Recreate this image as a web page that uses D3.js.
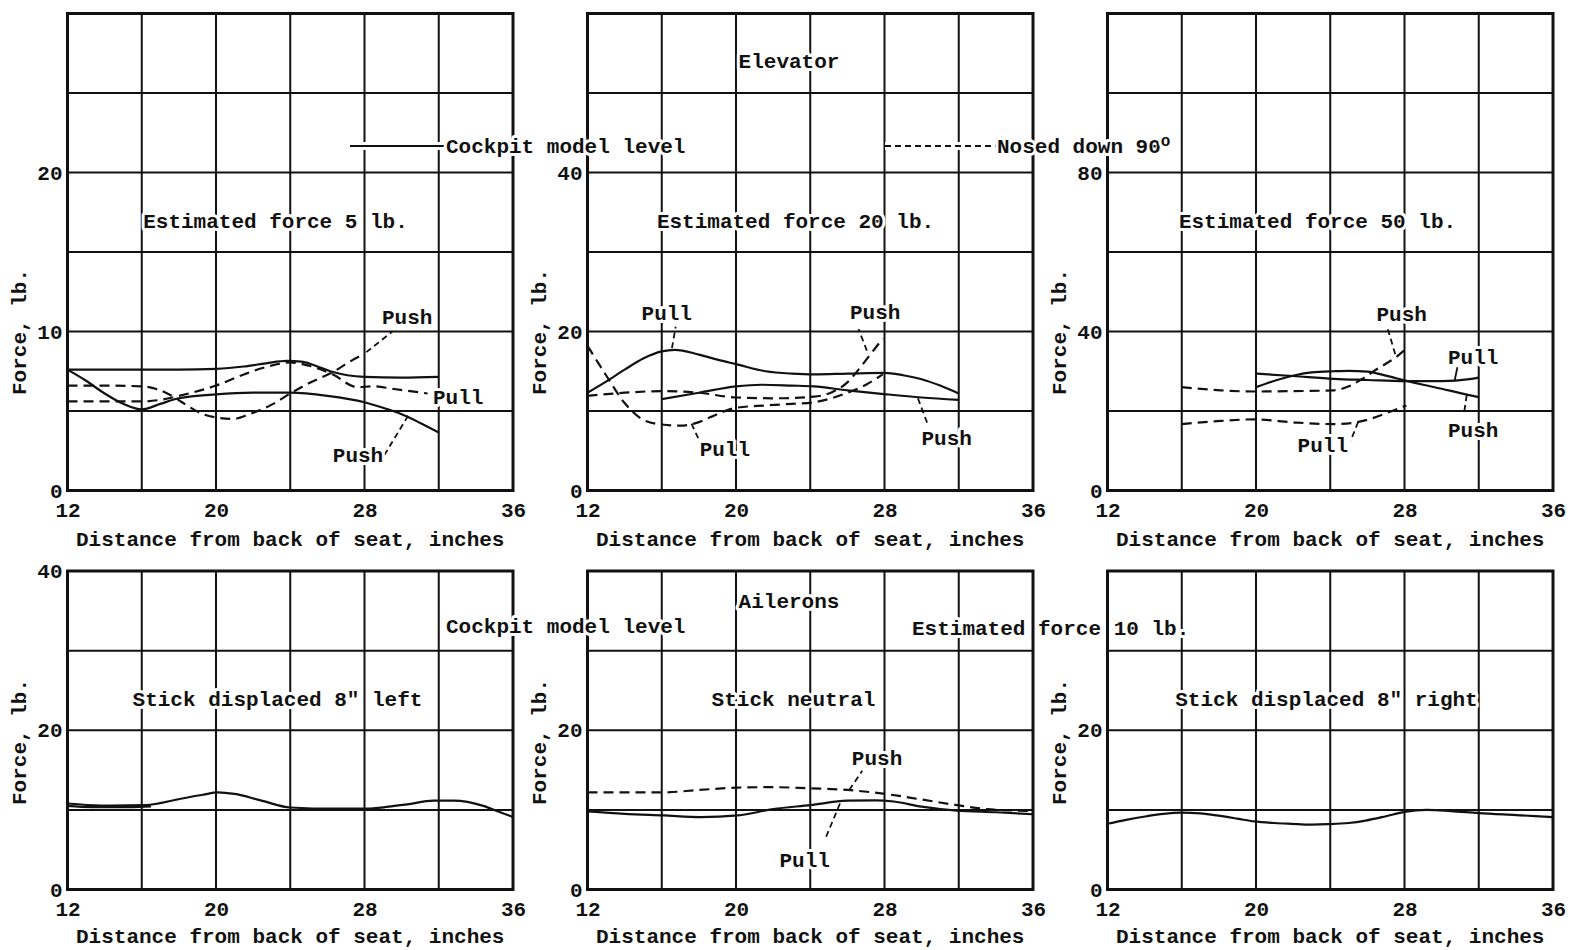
<!DOCTYPE html>
<html>
<head>
<meta charset="utf-8">
<script src="https://cdn.jsdelivr.net/npm/d3@7"></script>
<style>
  body { margin: 0; background: #fff; }
  svg text { font-family: "Liberation Mono", "DejaVu Sans Mono", monospace; font-weight: bold; font-size: 21px; fill: #111; }
  .halo { paint-order: stroke; stroke: #fff; stroke-width: 6px; stroke-linejoin: round; }
</style>
</head>
<body>
<svg id="chart" width="1577" height="950"></svg>
<script>
  // ---- axes ----
  var xDomain     = [12, 36];
  var xGrid       = [12, 16, 20, 24, 28, 32, 36];
  var xTickLabels = [12, 20, 28, 36];

  // ---- elevator, estimated 5 lb ----
  var elev5LevelA  = [[12,7.6],[14,7.6],[16,7.6],[18,7.6],[20,7.65],[21.5,7.8],[22.7,8.0],[23.8,8.15],[24.6,8.1],[25.7,7.7],[26.3,7.45],[28,7.15],[30,7.1],[32,7.15]];
  var elev5LevelB  = [[12,7.6],[13,6.9],[14,6.1],[15,5.45],[16,5.1],[17,5.45],[18,5.8],[20,6.05],[22,6.15],[24,6.15],[26,5.95],[28,5.55],[29,5.2],[30,4.8],[31,4.25],[32,3.65]];
  var elev5DownPush = [[12,6.6],[14,6.6],[16,6.55],[17,6.3],[17.7,5.9],[18.5,5.3],[19.3,4.8],[20,4.6],[20.9,4.5],[21.8,4.8],[23,5.4],[24,6.1],[25,6.75],[26.3,7.45],[27.2,8.1],[28,8.6]];
  var elev5DownPull = [[12,5.6],[14,5.6],[16,5.6],[17,5.7],[18,5.95],[20,6.6],[21.5,7.3],[22.8,7.8],[24,8.05],[25,7.85],[26.3,7.3],[27.6,6.5],[28.5,6.55],[29.5,6.4],[31.4,6.1]];

  // ---- elevator, estimated 20 lb ----
  var elev20LevelA  = [[12,12.3],[13,13.7],[14,15.2],[15,16.6],[16,17.5],[16.7,17.7],[18,17.1],[19.1,16.4],[20,15.9],[21.6,15.0],[23,14.7],[24.2,14.6],[26,14.7],[28,14.8],[29,14.5],[30,14.0],[31,13.2],[32,12.2]];
  var elev20LevelB  = [[16,11.5],[18,12.3],[20,13.1],[21.4,13.3],[23,13.2],[24.2,13.1],[26,12.6],[28.1,12.1],[30,11.7],[32,11.4]];
  var elev20DownPull = [[12,18.2],[13,14.5],[14,11.0],[15,8.9],[16,8.3],[17,8.15],[18,8.6],[18.6,9.2],[19.3,9.9],[20,10.4],[21.6,10.7],[23,10.9],[24.2,11.1],[25,11.5],[26,12.3],[27,13.3],[27.9,14.6]];
  var elev20DownPush = [[12,11.9],[14,12.3],[16,12.5],[18,12.3],[20,11.7],[22,11.6],[24.2,11.8],[25.2,12.4],[26,13.6],[26.6,15.2],[27.2,17.0],[27.9,19.1]];

  // ---- elevator, estimated 50 lb ----
  var elev50LevelPull = [[20,29.4],[22,28.8],[24.2,28.1],[26,27.8],[28,27.5],[30,27.5],[31.5,28.0],[32,28.4]];
  var elev50LevelPush = [[20,26.0],[21,27.6],[22.1,29.0],[23,29.7],[24.2,30.0],[25,30.1],[26,29.9],[27,28.9],[28,27.7],[29,26.6],[30,25.6],[31,24.5],[32,23.5]];
  var elev50DownPush  = [[16,26.0],[18.1,25.2],[19.9,24.9],[22,25.0],[24.2,25.2],[25,26.2],[25.7,28.0],[26.4,30.2],[27,31.9],[27.5,33.4],[28,35.3]];
  var elev50DownPull  = [[16,16.7],[18.1,17.5],[19.9,17.9],[22.1,17.1],[24.2,16.7],[25.2,17.0],[26,17.8],[27.1,19.6],[28.1,21.4]];

  // ---- ailerons, estimated 10 lb, cockpit level ----
  var ailLeftA    = [[12,10.8],[13.8,10.55],[16.2,10.6],[18.1,11.4],[19.3,11.9],[20.1,12.2],[21,12.0],[22.4,11.2],[24,10.3],[26.4,10.15],[28.1,10.15],[29.3,10.4],[30.3,10.7],[31.7,11.15],[32.8,11.15],[34.4,10.5],[35.2,9.8],[36,9.1]];
  var ailLeftB    = [[12,10.5],[13.3,10.35],[15.4,10.35],[16.5,10.45]];
  var ailNeutPush = [[12,12.2],[16.1,12.2],[18,12.5],[20.1,12.8],[22,12.85],[24,12.7],[26,12.5],[28.2,11.95],[30,11.3],[31.9,10.6],[33.5,10.1],[36,9.85]];
  var ailNeutPull = [[12,9.8],[14,9.5],[16.1,9.3],[18.1,9.1],[20.1,9.3],[22,10.1],[24,10.6],[26,11.15],[27.5,11.2],[28.5,11.05],[30,10.4],[31.9,9.9],[34,9.7],[36,9.45]];
  var ailRight    = [[12,8.25],[13,8.75],[14.1,9.2],[15,9.5],[16,9.65],[17,9.55],[17.9,9.3],[19,8.9],[19.9,8.55],[21,8.35],[21.9,8.25],[23,8.15],[23.9,8.2],[25,8.35],[25.9,8.65],[27,9.2],[28,9.75],[29.2,10.0],[30.5,9.85],[32,9.6],[34,9.35],[36,9.1]];

  // ---- layout ----
  var colX   = [67.5, 587.5, 1107.5];
  var panelW = 445.5;
  var rows = [
    {bottom: 490.5, top: 13.5, noteY: 221, titleDy: 55},
    {bottom: 889.5, top: 571,  noteY: 699, titleDy: 53}
  ];

  var panels = [
    {col:0, row:0, yMax:30,  yStep:5,  yLabels:[0,10,20], note:"Estimated force 5 lb.",  noteDx:208,
      curves:[{d:elev5LevelA},{d:elev5LevelB},{d:elev5DownPush,dash:true},{d:elev5DownPull,dash:true}],
      marks:[{t:"Push", at:[30.3,10.95], lead:[[28.1,8.7],[29.5,10.0]], dash:true},
             {t:"Pull", at:[33.05,5.9]},
             {t:"Push", at:[27.65,2.25], lead:[[30.35,4.7],[28.9,1.9]], dash:true}]},
    {col:1, row:0, yMax:60,  yStep:10, yLabels:[0,20,40], note:"Estimated force 20 lb.", noteDx:208,
      curves:[{d:elev20LevelA},{d:elev20LevelB},{d:elev20DownPull,dash:true},{d:elev20DownPush,dash:true}],
      marks:[{t:"Pull", at:[16.27,22.4], lead:[[16.55,17.9],[16.75,20.6]], dash:true},
             {t:"Push", at:[27.5,22.5], lead:[[27.05,17.6],[26.6,20.3]], dash:true},
             {t:"Push", at:[31.35,6.65], lead:[[29.8,11.6],[30.35,8.2]], dash:true},
             {t:"Pull", at:[19.4,5.3], lead:[[17.6,8.4],[18.0,6.4]], dash:true}]},
    {col:2, row:0, yMax:120, yStep:20, yLabels:[0,40,80], note:"Estimated force 50 lb.", noteDx:210,
      curves:[{d:elev50LevelPull},{d:elev50LevelPush},{d:elev50DownPush,dash:true},{d:elev50DownPull,dash:true}],
      marks:[{t:"Push", at:[27.85,44.4], lead:[[27.5,34.3],[27.1,40.6]], dash:true},
             {t:"Pull", at:[31.7,33.7], lead:[[30.7,27.6],[30.85,31]]},
             {t:"Push", at:[31.7,15.2], lead:[[31.35,24.0],[31.2,19.1]], dash:true},
             {t:"Pull", at:[23.6,11.5], lead:[[25.5,17.2],[25.1,12.5]], dash:true}]},
    {col:0, row:1, yMax:40, yStep:10, yLabels:[0,20,40], note:"Stick displaced 8\" left", noteDx:210,
      curves:[{d:ailLeftA},{d:ailLeftB}], marks:[]},
    {col:1, row:1, yMax:40, yStep:10, yLabels:[0,20], note:"Stick neutral", noteDx:206,
      curves:[{d:ailNeutPull},{d:ailNeutPush,dash:true}],
      marks:[{t:"Push", at:[27.6,16.6], lead:[[26.1,12.5],[26.8,14.9]], dash:true},
             {t:"Pull", at:[23.7,3.8], lead:[[25.6,10.8],[24.8,6.3]], dash:true}]},
    {col:2, row:1, yMax:40, yStep:10, yLabels:[0,20], note:"Stick displaced 8\" right", noteDx:219,
      curves:[{d:ailRight}], marks:[]}
  ];

  var svg = d3.select("#chart");
  var ink = "#111";

  panels.forEach(function(p){
    var r  = rows[p.row];
    var x0 = colX[p.col];
    var x = d3.scaleLinear().domain(xDomain).range([x0, x0 + panelW]);
    var y = d3.scaleLinear().domain([0, p.yMax]).range([r.bottom, r.top]);
    var g = svg.append("g");

    // grid
    g.selectAll(".vg").data(xGrid).enter().append("line")
      .attr("x1", function(d){ return x(d); }).attr("x2", function(d){ return x(d); })
      .attr("y1", y(0)).attr("y2", y(p.yMax))
      .attr("stroke", ink).attr("stroke-width", 2);
    g.selectAll(".hg").data(d3.range(0, p.yMax + 0.01, p.yStep)).enter().append("line")
      .attr("x1", x(12)).attr("x2", x(36))
      .attr("y1", function(d){ return y(d); }).attr("y2", function(d){ return y(d); })
      .attr("stroke", ink).attr("stroke-width", 2);
    g.append("rect")
      .attr("x", x(12)).attr("y", y(p.yMax))
      .attr("width", x(36) - x(12)).attr("height", y(0) - y(p.yMax))
      .attr("fill", "none").attr("stroke", ink).attr("stroke-width", 3);

    // axes
    var xa = g.append("g").attr("transform", "translate(0," + y(0) + ")")
      .call(d3.axisBottom(x).tickValues(xTickLabels).tickSize(0).tickPadding(12));
    xa.select(".domain").remove();
    xa.attr("font-size", null).attr("font-family", null);
    var ya = g.append("g").attr("transform", "translate(" + x(12) + ",0)")
      .call(d3.axisLeft(y).tickValues(p.yLabels).tickSize(0).tickPadding(5));
    ya.select(".domain").remove();
    ya.attr("font-size", null).attr("font-family", null);

    g.append("text")
      .attr("x", x(24)).attr("y", y(0) + r.titleDy)
      .attr("text-anchor", "middle")
      .text("Distance from back of seat, inches");
    g.append("text")
      .attr("transform", "translate(" + (x0 - 49) + "," + (p.row === 0 ? 332 : 742) + ") rotate(-90)")
      .attr("text-anchor", "middle").attr("dy", "0.35em")
      .text("Force, lb.");

    // panel note
    g.append("text").attr("class", "halo")
      .attr("x", x0 + p.noteDx).attr("y", r.noteY)
      .attr("text-anchor", "middle").attr("dy", "0.35em")
      .text(p.note);

    // curves
    var line = d3.line()
      .x(function(d){ return x(d[0]); })
      .y(function(d){ return y(d[1]); })
      .curve(d3.curveMonotoneX);
    p.curves.forEach(function(c){
      g.append("path").datum(c.d)
        .attr("d", line)
        .attr("fill", "none").attr("stroke", ink).attr("stroke-width", 2.2)
        .attr("stroke-dasharray", c.dash ? "10,6" : null);
    });

    // labels and leaders
    var straight = d3.line().x(function(d){ return x(d[0]); }).y(function(d){ return y(d[1]); });
    p.marks.forEach(function(m){
      if (m.lead) {
        g.append("path").datum(m.lead)
          .attr("d", straight)
          .attr("fill", "none").attr("stroke", ink).attr("stroke-width", 1.8)
          .attr("stroke-dasharray", m.dash ? "6,4" : null);
      }
      g.append("text").attr("class", "halo")
        .attr("x", x(m.at[0])).attr("y", y(m.at[1]))
        .attr("text-anchor", "middle").attr("dy", "0.35em")
        .text(m.t);
    });
  });

  // headings and legend
  svg.append("text").attr("class", "halo").attr("x", 789).attr("y", 61)
    .attr("text-anchor", "middle").attr("dy", "0.35em").text("Elevator");
  svg.append("text").attr("class", "halo").attr("x", 789).attr("y", 601)
    .attr("text-anchor", "middle").attr("dy", "0.35em").text("Ailerons");

  svg.append("line").attr("x1", 350).attr("x2", 444).attr("y1", 146).attr("y2", 146)
    .attr("stroke", "#fff").attr("stroke-width", 8);
  svg.append("line").attr("x1", 350).attr("x2", 444).attr("y1", 146).attr("y2", 146)
    .attr("stroke", ink).attr("stroke-width", 2.2);
  svg.append("text").attr("class", "halo").attr("x", 446).attr("y", 146)
    .attr("dy", "0.35em").text("Cockpit model level");

  svg.append("line").attr("x1", 885).attr("x2", 997).attr("y1", 146).attr("y2", 146)
    .attr("stroke", "#fff").attr("stroke-width", 8);
  svg.append("line").attr("x1", 885).attr("x2", 997).attr("y1", 146).attr("y2", 146)
    .attr("stroke", ink).attr("stroke-width", 2).attr("stroke-dasharray", "6,4");
  var nd = svg.append("text").attr("class", "halo").attr("x", 997).attr("y", 146)
    .attr("dy", "0.35em");
  nd.append("tspan").text("Nosed down 90");
  nd.append("tspan").attr("font-size", "16px").attr("dy", "-7").text("o");

  svg.append("text").attr("class", "halo").attr("x", 446).attr("y", 626)
    .attr("dy", "0.35em").text("Cockpit model level");
  svg.append("text").attr("class", "halo").attr("x", 912).attr("y", 628)
    .attr("dy", "0.35em").text("Estimated force 10 lb.");
</script>
</body>
</html>
